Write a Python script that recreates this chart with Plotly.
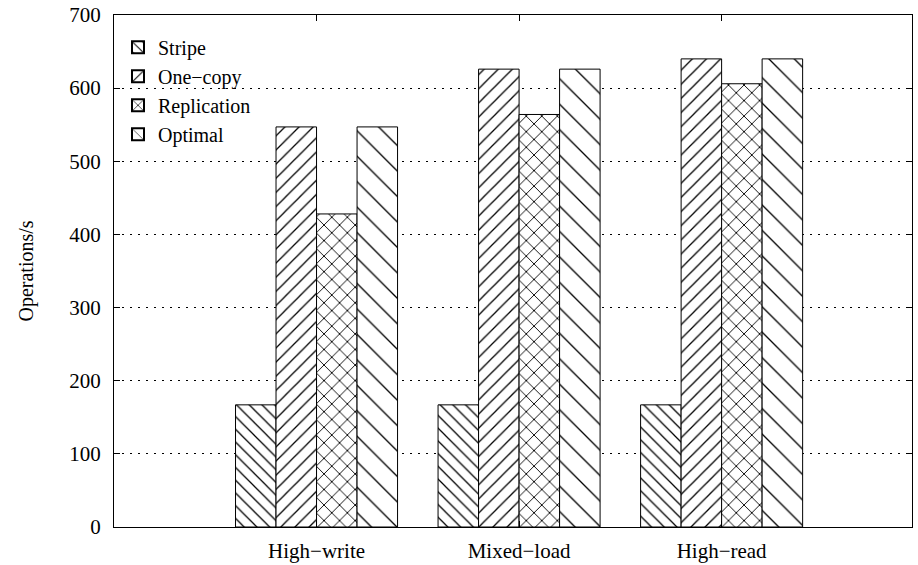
import plotly.graph_objects as go

# Workload groups and measured throughput per placement scheme
workloads = ["High\u2212write", "Mixed\u2212load", "High\u2212read"]
stripe = [167, 167, 167]
one_copy = [547, 626, 640]
replication = [428, 564, 606]
optimal = [547, 626, 640]

# name, values, hatch shape, hatch spacing, hatch solidity
series = [
    ("Stripe", stripe, "\\", 9, 0.14),
    ("One\u2212copy", one_copy, "/", 10, 0.13),
    ("Replication", replication, "x", 11, 0.16),
    ("Optimal", optimal, "\\", 18, 0.075),
]

FONT = "Liberation Serif, Times New Roman, serif"
positions = list(range(len(workloads)))

fig = go.Figure()
for name, values, shape, size, solidity in series:
    fig.add_trace(go.Bar(
        name=name,
        x=positions,
        y=values,
        marker=dict(
            color="white",
            line=dict(color="black", width=1),
            pattern=dict(shape=shape, size=size, solidity=solidity,
                         fgcolor="black", bgcolor="white", fgopacity=1,
                         fillmode="replace"),
        ),
    ))

fig.update_layout(
    width=918,
    height=565,
    margin=dict(l=114, r=6, t=15, b=38, autoexpand=False),
    paper_bgcolor="white",
    plot_bgcolor="white",
    barmode="group",
    bargap=0.2,
    bargroupgap=0,
    font=dict(family=FONT, size=21, color="black"),
    showlegend=True,
    legend=dict(
        x=0.005, y=0.975, xanchor="left", yanchor="top",
        bgcolor="rgba(0,0,0,0)",
        font=dict(family=FONT, size=20),
        tracegroupgap=0,
        itemsizing="constant",
    ),
)

fig.update_xaxes(
    range=[-1.0, 2.94],
    tickmode="array",
    tickvals=positions,
    ticktext=workloads,
    showgrid=False,
    showline=True, linecolor="black", linewidth=1, mirror="ticks",
    ticks="inside", ticklen=6, tickcolor="black",
    ticklabelstandoff=5,
    zeroline=False,
    automargin=False,
)

fig.update_yaxes(
    range=[0, 700],
    dtick=100,
    title=dict(text="Operations/s", font=dict(family=FONT, size=20), standoff=30),
    showgrid=True, gridcolor="black", gridwidth=1, griddash="2px,6px",
    showline=True, linecolor="black", linewidth=1, mirror="ticks",
    ticks="inside", ticklen=6, tickcolor="black",
    ticklabelstandoff=8,
    zeroline=False,
    automargin=False,
)

fig.write_html("out.html")
